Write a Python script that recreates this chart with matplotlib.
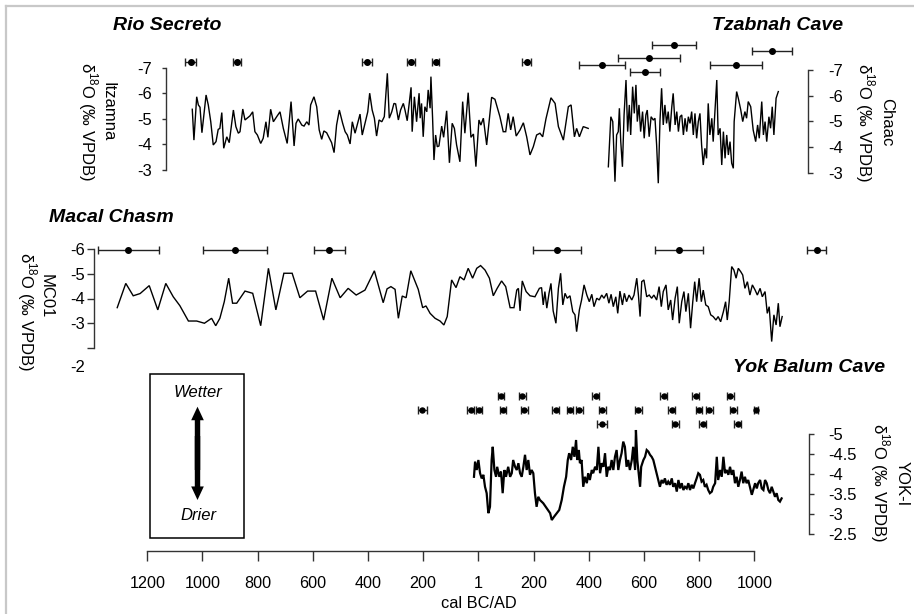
import matplotlib
matplotlib.use('Agg')
import matplotlib.pyplot as plt
import matplotlib.transforms as mtransforms
from matplotlib.patches import Rectangle, FancyArrowPatch
from matplotlib.lines import Line2D

plt.rcParams['font.family'] = ['Liberation Sans', 'DejaVu Sans']
plt.rcParams['mathtext.fontset'] = 'custom'
plt.rcParams['mathtext.rm'] = 'Liberation Sans'

# ---------------- data (years: negative = BC) ----------------
# Rio Secreto, Itzamna stalagmite
itz_year = [-1037, -1031, -1021, -1015, -1009, -1002, -987, -979, -970, -961,
            -951, -943, -937, -930, -923, -912, -903, -888, -879, -870,
            -864, -854, -846, -838, -828, -818, -810, -801, -789, -780,
            -770, -763, -753, -743, -731, -719, -707, -693, -679, -668,
            -661, -653, -640, -632, -622, -614, -608, -596, -586, -577,
            -568, -560, -550, -540, -532, -523, -514, -504, -492, -483,
            -475, -465, -457, -447, -429, -421, -411, -401, -394, -385,
            -377, -369, -360, -350, -341, -330, -323, -314, -306, -300,
            -290, -282, -272, -266, -258, -244, -240, -232, -224, -215,
            -211, -206, -200, -194, -187, -182, -175, -172, -166, -161,
            -155, -149, -143, -133, -126, -115, -105, -95, -87, -79,
            -67, -57, -49, -37, -27, -18, -9, 2, 9, 18,
            30, 48, 60, 78, 90, 99, 108, 117, 126, 137,
            151, 163, 175, 187, 199, 211, 223, 233, 245, 263,
            278, 290, 308, 326, 336, 348, 356, 366, 380, 398]
itz_d18o = [-5.37, -4.16, -5.86, -5.54, -5.45, -4.45, -5.93, -5.54, -4.88, -3.97,
            -4.10, -4.58, -4.62, -5.24, -3.84, -4.29, -4.06, -5.34, -4.69, -4.43,
            -4.49, -5.38, -4.95, -5.02, -5.11, -5.27, -4.49, -4.36, -4.03, -4.23,
            -4.88, -4.27, -5.37, -4.88, -5.08, -5.27, -4.62, -4.03, -5.67, -3.93,
            -4.82, -4.99, -4.75, -4.71, -4.88, -4.75, -5.54, -5.86, -5.47, -4.56,
            -4.19, -4.52, -4.45, -4.23, -4.06, -3.67, -4.75, -5.34, -4.82, -4.49,
            -4.36, -4.01, -4.88, -4.43, -5.18, -4.36, -4.82, -5.27, -6.00, -5.34,
            -5.02, -4.32, -4.95, -4.88, -5.08, -6.78, -5.02, -5.27, -5.60, -5.58,
            -4.95, -5.34, -5.60, -5.34, -4.92, -6.23, -4.49, -5.86, -4.88, -6.00,
            -5.02, -5.60, -4.29, -5.47, -5.27, -6.13, -5.41, -6.65, -5.02, -3.38,
            -4.36, -3.90, -3.93, -4.71, -4.27, -5.31, -3.27, -4.82, -4.62, -3.97,
            -3.31, -5.67, -4.43, -6.02, -4.27, -4.40, -3.12, -4.95, -4.75, -5.02,
            -3.97, -5.84, -5.76, -5.08, -4.49, -4.49, -5.21, -4.56, -5.08, -4.32,
            -4.56, -4.84, -4.29, -3.58, -3.90, -4.36, -4.43, -4.29, -5.00, -5.82,
            -5.60, -4.69, -4.16, -5.47, -5.54, -4.29, -4.62, -4.29, -4.69, -4.62]
itz_date = [-1042, -875, -404, -244, -155, 175]
itz_date_err = [20, 13, 17, 15, 12, 16]
itz_date_row = -7.24

# Tzabnah Cave, Chaac stalagmite
chaac_year = [471, 480, 487, 495, 501, 507, 511, 516, 522, 528,
              535, 541, 547, 552, 559, 565, 571, 576, 582, 588,
              595, 601, 607, 612, 619, 626, 634, 640, 646, 652,
              658, 664, 670, 676, 682, 688, 694, 701, 706, 713,
              719, 725, 731, 737, 743, 749, 755, 761, 767, 773,
              779, 785, 791, 797, 803, 809, 815, 821, 827, 833,
              839, 846, 851, 858, 864, 869, 876, 882, 888, 894,
              900, 906, 912, 918, 924, 927, 936, 942, 951, 958,
              966, 972, 978, 987, 996, 1005, 1012, 1018, 1027, 1033,
              1039, 1045, 1053, 1059, 1065, 1071, 1079, 1087]
chaac_d18o = [-3.23, -5.18, -4.99, -2.65, -4.47, -4.60, -5.51, -4.21, -3.23, -5.25,
              -6.61, -4.60, -5.64, -4.47, -6.35, -5.31, -6.42, -4.99, -5.64, -4.60,
              -5.38, -4.34, -5.25, -5.44, -4.40, -5.18, -5.05, -5.12, -4.08, -2.59,
              -4.99, -6.29, -4.86, -5.64, -4.92, -5.38, -4.60, -5.57, -6.09, -4.86,
              -5.38, -4.60, -5.18, -5.25, -4.47, -5.12, -4.60, -5.18, -4.92, -5.38,
              -4.47, -5.31, -4.34, -4.99, -5.31, -4.08, -3.30, -3.95, -3.56, -5.70,
              -4.47, -5.12, -4.21, -5.51, -6.61, -4.47, -4.73, -3.30, -4.60, -3.56,
              -4.47, -3.69, -4.21, -3.37, -3.17, -4.99, -6.16, -5.90, -5.44, -4.99,
              -5.38, -5.12, -5.77, -5.57, -4.66, -4.21, -4.86, -4.34, -5.77, -4.47,
              -4.99, -4.21, -5.18, -4.73, -5.57, -4.47, -5.90, -6.16]
chaac_date = [710, 1063, 617, 449, 933, 605]
chaac_date_err = [80, 72, 112, 83, 95, 54]
chaac_date_row = [-7.97, -7.74, -7.48, -7.19, -7.19, -6.91]

# Macal Chasm, MC01
mc_year = [-1309, -1278, -1251, -1226, -1193, -1162, -1133, -1106, -1082, -1051,
           -1021, -993, -967, -952, -937, -921, -905, -891, -876, -846,
           -818, -789, -761, -734, -705, -675, -647, -619, -590, -561,
           -531, -501, -472, -443, -411, -377, -345, -331, -317, -302,
           -290, -276, -262, -245, -218, -202, -190, -175, -157, -139,
           -125, -113, -97, -81, -67, -52, -37, -21, -6, 8,
           24, 40, 54, 68, 84, 99, 115, 129, 139, 145,
           151, 159, 173, 187, 205, 221, 229, 235, 241, 248,
           256, 263, 271, 281, 290, 298, 306, 314, 322, 332,
           342, 350, 356, 366, 374, 383, 393, 402, 411, 419,
           429, 438, 447, 455, 465, 473, 481, 489, 498, 505,
           513, 522, 529, 537, 546, 556, 564, 574, 580, 586,
           592, 600, 610, 619, 628, 636, 646, 655, 663, 670,
           680, 688, 697, 704, 713, 721, 728, 737, 745, 752,
           761, 769, 777, 784, 791, 800, 808, 815, 824, 833,
           842, 851, 861, 869, 878, 888, 896, 902, 909, 918,
           926, 934, 942, 951, 958, 966, 975, 984, 993, 1003,
           1011, 1021, 1029, 1039, 1047, 1054, 1063, 1071, 1079, 1087,
           1093, 1101]
mc_d18o = [-3.63, -4.61, -4.11, -4.20, -4.52, -3.54, -4.61, -4.07, -3.71, -3.09,
           -3.09, -3.00, -3.20, -2.90, -3.20, -3.87, -4.82, -3.81, -3.81, -4.30,
           -4.21, -2.90, -5.22, -3.54, -5.02, -5.02, -4.03, -4.30, -4.30, -3.13,
           -4.82, -4.03, -4.41, -4.14, -4.34, -5.12, -3.83, -4.39, -4.48, -4.37,
           -3.20, -4.10, -4.03, -5.12, -4.37, -3.63, -3.70, -3.40, -3.20, -3.09,
           -2.93, -3.27, -4.75, -4.44, -4.88, -4.75, -5.22, -4.82, -5.22, -5.33,
           -5.15, -4.82, -4.11, -4.41, -4.71, -4.48, -3.63, -3.63, -4.34, -4.41,
           -3.50, -4.71, -4.28, -4.11, -4.07, -4.41, -4.44, -3.74, -4.28, -3.61,
           -4.21, -4.61, -3.50, -3.00, -4.41, -5.02, -3.74, -4.21, -4.01, -4.11,
           -3.47, -3.34, -2.66, -3.54, -3.94, -4.55, -4.14, -3.87, -4.17, -3.67,
           -4.01, -3.94, -4.14, -4.01, -4.21, -3.81, -4.17, -3.67, -4.07, -3.40,
           -4.30, -3.74, -4.21, -3.87, -4.14, -3.94, -4.14, -4.82, -4.14, -3.27,
           -4.68, -4.75, -4.07, -4.14, -4.01, -4.14, -3.94, -4.48, -3.67, -4.28,
           -4.55, -3.54, -3.94, -3.13, -4.01, -4.48, -3.00, -3.87, -4.28, -3.47,
           -4.21, -2.80, -3.87, -4.68, -3.87, -4.82, -3.87, -4.34, -3.74, -3.67,
           -3.34, -3.27, -3.13, -3.27, -3.06, -3.47, -3.87, -3.13, -3.87, -5.29,
           -5.15, -4.82, -5.22, -5.08, -4.95, -4.41, -4.68, -4.14, -4.55, -4.34,
           -4.14, -4.41, -4.07, -4.28, -3.40, -3.67, -2.26, -3.34, -2.93, -3.81,
           -2.86, -3.27]
mc_date = [-1269, -882, -540, 285, 727, 1226]
mc_date_err = [111, 116, 55, 88, 86, 35]
mc_date_row = -5.97

# Yok Balum Cave, YOK-I
yok_year = [-16, -12, -6, 0, 6, 12, 18, 24, 30, 36,
            42, 48, 52, 58, 64, 68, 76, 82, 88, 94,
            100, 108, 115, 121, 126, 133, 139, 145, 151, 157,
            163, 169, 175, 181, 187, 193, 199, 205, 211, 217,
            223, 235, 248, 260, 266, 274, 284, 293, 302, 310,
            318, 324, 329, 336, 342, 348, 354, 358, 364, 368,
            374, 380, 386, 393, 398, 404, 411, 416, 423, 429,
            435, 441, 447, 453, 459, 465, 471, 477, 483, 489,
            495, 501, 507, 513, 519, 525, 531, 537, 543, 549,
            556, 561, 568, 571, 576, 581, 586, 590, 598, 604,
            610, 616, 622, 628, 634, 640, 646, 652, 658, 664,
            670, 676, 682, 688, 694, 701, 706, 713, 719, 725,
            731, 737, 743, 749, 755, 761, 767, 773, 779, 785,
            791, 797, 803, 809, 815, 821, 827, 833, 839, 846,
            851, 858, 864, 869, 876, 882, 888, 894, 900, 906,
            912, 918, 924, 930, 936, 942, 948, 954, 960, 966,
            972, 978, 984, 991, 996, 1003, 1009, 1014, 1021, 1027,
            1033, 1039, 1045, 1051, 1057, 1063, 1069, 1075, 1081, 1087,
            1093, 1099]
yok_d18o = [-3.93, -4.31, -4.10, -4.35, -4.02, -3.89, -3.98, -3.68, -3.52, -3.02,
            -3.18, -4.35, -4.68, -4.10, -3.93, -4.18, -3.93, -4.06, -3.52, -4.10,
            -3.93, -4.18, -3.93, -4.02, -4.35, -4.18, -4.10, -4.27, -4.02, -3.93,
            -4.18, -4.48, -4.10, -4.35, -3.98, -4.10, -4.02, -3.52, -3.18, -3.43,
            -3.35, -3.27, -3.14, -3.02, -2.85, -2.93, -3.02, -3.10, -3.35, -3.68,
            -3.93, -4.35, -4.52, -4.35, -4.68, -4.43, -4.85, -4.35, -4.60, -4.27,
            -4.35, -3.68, -3.93, -3.77, -4.02, -3.85, -4.10, -4.02, -4.18, -4.10,
            -4.68, -4.02, -4.27, -4.18, -4.52, -3.93, -4.18, -4.10, -4.35, -4.10,
            -4.43, -4.60, -4.10, -4.35, -4.52, -4.81, -4.68, -4.18, -4.35, -4.10,
            -4.35, -4.68, -4.10, -5.10, -4.35, -4.02, -3.68, -4.18, -4.35, -4.43,
            -4.60, -4.56, -4.48, -4.43, -4.35, -4.18, -4.02, -3.85, -3.68, -3.85,
            -3.77, -3.89, -3.73, -3.81, -3.73, -3.89, -3.68, -3.77, -3.56, -3.85,
            -3.64, -3.77, -3.60, -3.68, -3.64, -3.77, -3.60, -3.73, -3.64, -3.77,
            -3.89, -4.02, -3.98, -3.81, -3.85, -3.68, -3.73, -3.60, -3.52, -3.56,
            -3.68, -3.77, -4.43, -3.85, -4.10, -3.93, -4.43, -4.02, -4.10, -3.98,
            -4.18, -3.98, -4.10, -3.77, -3.93, -3.68, -3.85, -4.06, -3.77, -3.93,
            -3.77, -3.85, -3.68, -3.48, -3.60, -3.77, -3.64, -3.77, -3.85, -3.64,
            -3.60, -3.85, -3.77, -3.60, -3.52, -3.68, -3.56, -3.43, -3.52, -3.35,
            -3.31, -3.39]
yok_date_1 = [82, 159, 425, 672, 787, 913]
yok_date_1_err = [12, 12, 12, 12, 12, 12]
yok_date_2 = [-203, -28, 2, 89, 167, 280, 332, 366, 449, 580, 701, 800, 837, 924, 1006]
yok_date_2_err = [17, 12, 12, 12, 12, 12, 12, 12, 12, 12, 12, 12, 12, 12, 6]
yok_date_3 = [448, 714, 813, 940]
yok_date_3_err = [18, 12, 12, 12]
yok_date_rows = [-5.95, -5.6, -5.25]

x_ticks = [-1200, -1000, -800, -600, -400, -200, 0, 200, 400, 600, 800, 1000]
x_labels = ['1200', '1000', '800', '600', '400', '200', '1',
            '200', '400', '600', '800', '1000']

# ---------------- layout ----------------
W, H = 914, 614
X0, X1 = 147.3, 754.3      # pixel columns of 1200 BC and AD 1000
AX = '#333333'
D18O = 'δ$^{\\mathregular{18}}$O (‰ VPDB)'

fig = plt.figure(figsize=(W / 100, H / 100), dpi=100)


def fx(px):
    return px / W


def fy(py):
    return 1 - py / H


def panel(top, bottom, lo, hi, side, spine_px, ticks, labels, tlen, pad):
    ax = fig.add_axes([fx(X0), fy(bottom), fx(X1) - fx(X0), fy(top) - fy(bottom)])
    ax.set_xlim(-1200, 1000)
    ax.set_ylim(lo, hi)
    ax.patch.set_visible(False)
    for s in ax.spines.values():
        s.set_visible(False)
    sp = ax.spines[side]
    sp.set_visible(True)
    sp.set_position(('axes', (spine_px - X0) / (X1 - X0)))
    sp.set_color(AX)
    sp.set_linewidth(1)
    ax.set_xticks([])
    if side == 'right':
        ax.yaxis.tick_right()
    ax.set_yticks(ticks, labels)
    ax.tick_params(axis='y', length=tlen, width=1, color=AX, pad=pad, labelsize=12)
    return ax


def curve(ax, x, y, lw=1.0):
    ax.plot(x, y, color='black', lw=lw, clip_on=False, solid_joinstyle='miter')


def dates(ax, x, y, err, ms=4):
    eb = ax.errorbar(x, y, xerr=err, fmt='o', color='black', ms=ms,
                     ecolor='#222222', elinewidth=1, capsize=2.6, capthick=1)
    for art in eb.get_children():
        art.set_clip_on(False)


def label(px, py, s, **kw):
    fig.text(fx(px), fy(py), s, ha='center', va='center', **kw)


# Rio Secreto (Itzamna)
ax1 = panel(67.7, 169.7, -3, -7, 'left', 165.7, [-7, -6, -5, -4, -3],
            ['-7', '-6', '-5', '-4', '-3'], 3, 7)
curve(ax1, itz_year, itz_d18o)
dates(ax1, itz_date, [itz_date_row] * len(itz_date), itz_date_err)

# Tzabnah Cave (Chaac)
ax2 = panel(70, 172.7, -3, -7, 'right', 808.3, [-7, -6, -5, -4, -3],
            ['-7', '-6', '-5', '-4', '-3'], 3.6, 10.5)
curve(ax2, chaac_year, chaac_d18o)
dates(ax2, chaac_date, chaac_date_row, chaac_date_err)

# Macal Chasm (MC01)
ax3 = panel(249, 348, -2, -6, 'left', 94, [-6, -5, -4, -3, -2],
            ['-6', '-5', '-4', '-3', ''], 4.8, 1.8)
curve(ax3, mc_year, mc_d18o)
dates(ax3, mc_date, [mc_date_row] * len(mc_date), mc_date_err)
fig.text(fx(85.5), fy(368), '-2', ha='right', va='center', fontsize=12)

# Yok Balum Cave (YOK-I)
ax4 = panel(434, 534, -2.5, -5, 'right', 809.3, [-5, -4.5, -4, -3.5, -3, -2.5],
            ['-5', '-4.5', '-4', '-3.5', '-3', '-2.5'], 3.4, 10)
curve(ax4, yok_year, yok_d18o, lw=1.6)
for row, xs, es in zip(yok_date_rows, [yok_date_1, yok_date_2, yok_date_3],
                       [yok_date_1_err, yok_date_2_err, yok_date_3_err]):
    dates(ax4, xs, [row] * len(xs), es, ms=3.6)

# time axis
axb = fig.add_axes([fx(X0), fy(551), fx(X1) - fx(X0), 10 / H])
axb.set_xlim(-1200, 1000)
axb.patch.set_visible(False)
for s in ['top', 'left', 'right']:
    axb.spines[s].set_visible(False)
axb.spines['bottom'].set_color(AX)
axb.spines['bottom'].set_linewidth(1)
axb.set_yticks([])
axb.set_xticks(x_ticks, x_labels)
axb.tick_params(axis='x', length=7.2, width=1, color=AX, pad=11, labelsize=11.6)
tr = mtransforms.blended_transform_factory(axb.transData, fig.transFigure)
axb.text(0, fy(604), 'cal BC/AD', transform=tr, ha='center', va='center', fontsize=11.8)

# titles
bi = dict(fontsize=14, fontweight='bold', fontstyle='italic', va='center')
fig.text(fx(113), fy(25), 'Rio Secreto', ha='left', **bi)
fig.text(fx(843), fy(25), 'Tzabnah Cave', ha='right', **bi)
fig.text(fx(49), fy(218), 'Macal Chasm', ha='left', **bi)
fig.text(fx(885), fy(367), 'Yok Balum Cave', ha='right', **bi)

# y axis titles
lab = dict(rotation=270, fontsize=12)
label(108, 112, 'Itzamna', **lab)
label(88, 122, D18O, **lab)
label(46, 296, 'MC01', **lab)
label(27, 312, D18O, **lab)
label(887, 122, 'Chaac', **lab)
label(865, 123, D18O, **lab)
label(902, 484, 'YOK-I', **lab)
label(880, 483, D18O, **lab)

# wetter / drier key
fig.add_artist(Rectangle((fx(150), fy(538.3)), fx(244.3) - fx(150), fy(374) - fy(538.3),
                         transform=fig.transFigure, fill=False, lw=1.1, ec='black'))
label(198.3, 392.7, 'Wetter', fontsize=12, fontstyle='italic')
label(198.3, 515, 'Drier', fontsize=12, fontstyle='italic')
# two overlapping single-headed arrows make one double-headed arrow
for start, tip in ((470, 406.7), (436, 500)):
    fig.add_artist(FancyArrowPatch((fx(197.5), fy(start)), (fx(197.5), fy(tip)),
                                   transform=fig.transFigure, shrinkA=0, shrinkB=0,
                                   arrowstyle='simple,head_length=0.75,head_width=0.7,tail_width=0.3',
                                   mutation_scale=13, color='black', lw=0))

# light frame of the original panel
fig.add_artist(Line2D([fx(6), fx(6)], [0, fy(6)], transform=fig.transFigure,
                      color='#c8c8c8', lw=1.6))
fig.add_artist(Line2D([fx(6), 1], [fy(6), fy(6)], transform=fig.transFigure,
                      color='#c8c8c8', lw=1.6))

fig.savefig('out.png', dpi=100)
